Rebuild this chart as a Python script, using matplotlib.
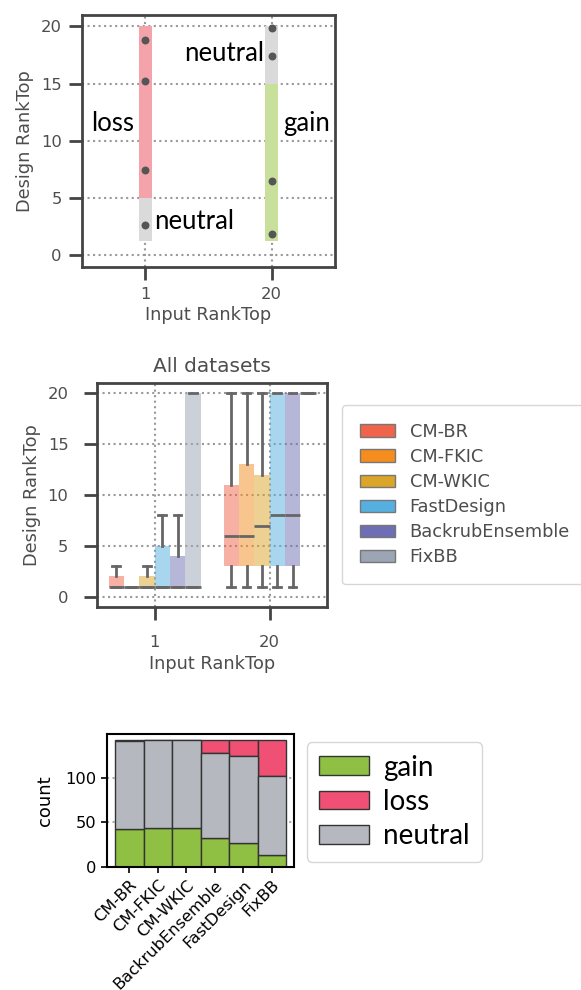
import matplotlib
matplotlib.use("Agg")
import matplotlib.pyplot as plt

plt.rcParams["font.family"] = ["DejaVu Sans"]

# ---- data ----

# panel 1: schematic of gain / loss / neutral
x_groups = ["1", "20"]
pts_in1 = [18.8, 15.2, 7.4, 2.6]
pts_in20 = [19.9, 17.4, 6.5, 1.8]

# panel 2: box stats per method (group "1", group "20")
methods = ["CM-BR", "CM-FKIC", "CM-WKIC", "FastDesign", "BackrubEnsemble", "FixBB"]
method_colors = ["#f0644b", "#f58c1e", "#daa528", "#55afe1", "#6e6eb4", "#9ba5b4"]
whislo = [[1, 1], [1, 1], [1, 1], [1, 1], [1, 1], [1, 20]]
q1 = [[1, 3], [1, 3], [1, 3], [1, 3], [1, 3], [1, 20]]
med = [[1, 6], [1, 6], [1, 7], [1, 8], [1, 8], [1, 20]]
q3 = [[2, 11], [1, 13], [2, 12], [5, 20], [4, 20], [20, 20]]
whishi = [[3, 20], [1, 20], [3, 20], [8, 20], [8, 20], [20, 20]]

# panel 3: stacked counts
bar_methods = ["CM-BR", "CM-FKIC", "CM-WKIC", "BackrubEnsemble", "FastDesign", "FixBB"]
gain = [43, 44, 44, 33, 27, 13]
neutral = [98, 98, 98, 95, 97, 89]
loss = [1, 0, 0, 14, 18, 40]

dark = "#4d4d4d"

fig = plt.figure(figsize=(5.81, 9.90), dpi=100)

def style_axes(ax, pad):
  for sp in ax.spines.values():
    sp.set_color("#444444")
    sp.set_linewidth(2)
  ax.tick_params(axis="both", length=9.5, width=2, color="#444444",
                 labelcolor=dark, labelsize=11.8, pad=pad)
  ax.grid(True, color="#999999", linestyle=":", linewidth=1.5)
  ax.set_axisbelow(True)

# ---- panel 1 ----
ax1 = fig.add_axes([0.1411, 0.7303, 0.4355, 0.2545])
style_axes(ax1, 5)
bw = 0.105
ax1.bar(0, 20 - 5, bottom=5, width=bw, color="#f5a3ab")
ax1.bar(0, 5 - 1.2, bottom=1.2, width=bw, color="#dadada")
ax1.bar(1, 15 - 1.2, bottom=1.2, width=bw, color="#c8e09c")
ax1.bar(1, 20 - 15, bottom=15, width=bw, color="#dadada")
ax1.scatter([0] * len(pts_in1), pts_in1, s=22, color="#555555", zorder=3)
ax1.scatter([1] * len(pts_in20), pts_in20, s=22, color="#555555", zorder=3)
ax1.set_xticks([0, 1])
ax1.set_xticklabels(x_groups)
ax1.set_yticks([0, 5, 10, 15, 20])
ax1.set_xlim(-0.5, 1.5)
ax1.set_ylim(-1.05, 21.0)
ax1.set_xlabel("Input RankTop", fontsize=12.8, color=dark, labelpad=3)
ax1.set_ylabel("Design RankTop", fontsize=12.8, color=dark, labelpad=5)
ann = dict(fontsize=18.5, family="Lato", color="black", va="center")
ax1.text(-0.09, 11.5, "loss", ha="right", **ann)
ax1.text(0.07, 2.9, "neutral", ha="left", **ann)
ax1.text(0.94, 17.6, "neutral", ha="right", **ann)
ax1.text(1.09, 11.5, "gain", ha="left", **ann)

# ---- panel 2 ----
ax2 = fig.add_axes([0.1670, 0.3869, 0.3959, 0.2263])
style_axes(ax2, 11)
nm = len(methods)
w = 0.8 / nm
handles = []
for i in range(nm):
  stats = []
  pos = []
  for g in range(2):
    stats.append(dict(whislo=whislo[i][g], q1=q1[i][g], med=med[i][g],
                      q3=q3[i][g], whishi=whishi[i][g], fliers=[]))
    pos.append(g - 0.4 + w * (i + 0.5))
  bp = ax2.bxp(stats, positions=pos, widths=w, patch_artist=True,
               showfliers=False, manage_ticks=False,
               boxprops=dict(facecolor=method_colors[i], alpha=0.5, edgecolor="none"),
               medianprops=dict(color="#666666", linewidth=2),
               whiskerprops=dict(color="#666666", linewidth=2),
               capprops=dict(color="#666666", linewidth=2))
  handles.append(plt.Rectangle((0, 0), 1, 1, facecolor=method_colors[i],
                               edgecolor="#777777", linewidth=1))
ax2.set_xticks([0, 1])
ax2.set_xticklabels(x_groups)
ax2.set_yticks([0, 5, 10, 15, 20])
ax2.set_xlim(-0.5, 1.5)
ax2.set_ylim(-1.0, 21.0)
ax2.set_xlabel("Input RankTop", fontsize=12.8, color=dark, labelpad=3)
ax2.set_ylabel("Design RankTop", fontsize=12.8, color=dark, labelpad=5)
ax2.set_title("All datasets", fontsize=14.5, color=dark, pad=8)
leg = fig.legend(handles, methods, loc="upper left",
                 bbox_to_anchor=(0.5886, 0.5909), bbox_transform=fig.transFigure,
                 borderaxespad=0, fontsize=12.8, handlelength=2.0,
                 labelspacing=0.4, borderpad=1.0, handletextpad=0.8,
                 frameon=True, edgecolor="#cccccc")
for t in leg.get_texts():
  t.set_color(dark)

# ---- panel 3 ----
ax3 = fig.add_axes([0.1842, 0.1242, 0.3219, 0.1343])
xs = list(range(len(bar_methods)))
bot2 = [g + n for g, n in zip(gain, neutral)]
ax3.bar(xs, gain, width=1.0, color="#8fc043", edgecolor="#333333", linewidth=1, label="gain")
ax3.bar(xs, loss, bottom=bot2, width=1.0, color="#f05074", edgecolor="#333333", linewidth=1, label="loss")
ax3.bar(xs, neutral, bottom=gain, width=1.0, color="#b5b9bf", edgecolor="#333333", linewidth=1, label="neutral")
ax3.set_xticks(xs)
ax3.set_xticklabels(bar_methods, rotation=45, ha="right", rotation_mode="anchor")
ax3.set_yticks([0, 50, 100])
ax3.set_xlim(-0.78, 5.78)
ax3.set_ylim(0, 149)
ax3.yaxis.grid(True, color="#aaaaaa", linestyle=":", linewidth=1.5)
ax3.set_axisbelow(True)
ax3.tick_params(axis="both", length=4, width=1.2, labelsize=11.7, colors="black")
for sp in ax3.spines.values():
  sp.set_linewidth(1.5)
  sp.set_color("black")
ax3.set_ylabel("count", fontsize=13, labelpad=8)
fig.legend(loc="upper left", bbox_to_anchor=(0.528, 0.2505), bbox_transform=fig.transFigure,
           borderaxespad=0, prop=dict(family="Lato", size=20), handlelength=1.8,
           handleheight=0.65, labelspacing=0.3, borderpad=0.45, handletextpad=0.5,
           frameon=True, edgecolor="#cccccc")

fig.savefig("out.png", dpi=100)
